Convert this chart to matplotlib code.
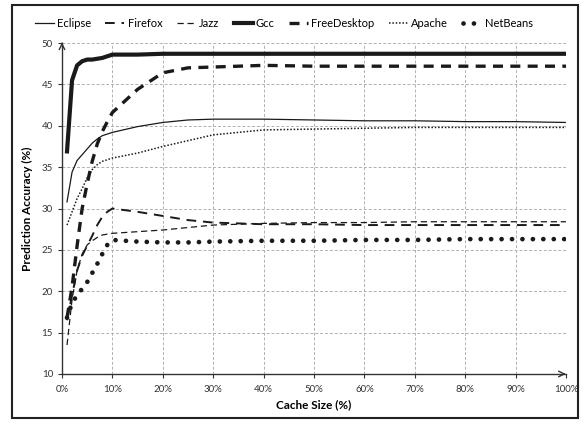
import matplotlib
matplotlib.use("Agg")
import matplotlib.pyplot as plt
from matplotlib.patches import Rectangle
from matplotlib.ticker import FuncFormatter

plt.rcParams['font.family'] = ['Lato', 'DejaVu Sans']

# cache size (%)
cache = [1, 2, 3, 4, 5, 6, 7, 8, 9, 10, 15, 20, 25, 30, 40, 50, 60, 70, 80, 90, 100]

eclipse = [30.8, 34.4, 35.8, 36.5, 37.2, 37.9, 38.4, 38.8, 39.0, 39.2, 39.9, 40.4, 40.7,
           40.8, 40.8, 40.7, 40.6, 40.6, 40.5, 40.5, 40.4]
firefox = [16.5, 19.5, 22.5, 24.3, 25.5, 26.7, 28.0, 29.0, 29.6, 30.0, 29.6, 29.1, 28.6,
           28.3, 28.1, 28.1, 28.0, 28.0, 28.0, 28.0, 28.0]
jazz = [13.5, 19.0, 22.5, 24.5, 25.6, 26.1, 26.5, 26.8, 26.9, 27.0, 27.2, 27.4, 27.7,
        28.0, 28.2, 28.3, 28.3, 28.4, 28.4, 28.4, 28.4]
gcc = [36.9, 45.5, 47.3, 47.8, 48.0, 48.0, 48.1, 48.2, 48.4, 48.6, 48.6, 48.7, 48.7,
       48.7, 48.7, 48.7, 48.7, 48.7, 48.7, 48.7, 48.7]
freedesktop = [16.8, 20.5, 25.5, 30.0, 33.0, 35.7, 37.8, 39.3, 40.5, 41.6, 44.4, 46.4, 47.0,
               47.1, 47.3, 47.2, 47.2, 47.2, 47.2, 47.2, 47.2]
apache = [28.0, 29.6, 31.2, 32.4, 33.7, 34.7, 35.3, 35.7, 35.9, 36.1, 36.7, 37.5, 38.2,
          38.9, 39.5, 39.6, 39.7, 39.8, 39.8, 39.8, 39.8]
netbeans = [16.8, 18.6, 19.5, 20.3, 21.1, 22.2, 23.3, 24.5, 25.6, 26.2, 26.0, 25.9, 25.9,
            26.0, 26.1, 26.1, 26.2, 26.2, 26.3, 26.3, 26.3]

col = '#1a1a1a'

fig = plt.figure(figsize=(5.88, 4.26), dpi=100)
ax = fig.add_axes([0.1054, 0.1221, 0.8572, 0.7769])

ax.plot(cache, eclipse, color=col, lw=0.9, label='Eclipse')
ax.plot(cache, firefox, color=col, lw=1.4, dashes=(5, 3.5), label='Firefox')
ax.plot(cache, jazz, color=col, lw=0.9, dashes=(5, 3), label='Jazz')
ax.plot(cache, gcc, color=col, lw=3.0, label='Gcc')
ax.plot(cache, freedesktop, color=col, lw=2.4, dashes=(3, 2.2), label='FreeDesktop')
ax.plot(cache, apache, color=col, lw=1.1, dashes=(1, 1.2), label='Apache')
ax.plot(cache, netbeans, color=col, lw=3.4, dashes=(0.01, 2.2),
        dash_capstyle='round', label='NetBeans')

ax.set_xlim(0, 100)
ax.set_ylim(10, 50)
ax.set_xticks(range(0, 101, 10))
ax.set_yticks(range(10, 51, 5))
ax.xaxis.set_major_formatter(FuncFormatter(lambda v, p: '%d%%' % v))
ax.tick_params(labelsize=7, colors='#333333', length=3, width=0.8)
ax.tick_params(axis='x', pad=5)
ax.grid(True, color='#b0b0b0', linestyle=(0, (3, 2)), linewidth=0.7)
ax.set_axisbelow(True)

for s in ['top', 'right']:
    ax.spines[s].set_visible(False)
for s in ['left', 'bottom']:
    ax.spines[s].set_color('#333333')
    ax.spines[s].set_linewidth(1.0)

# arrow heads on the axes
ax.annotate('', xy=(1.005, 0), xytext=(0.99, 0), xycoords='axes fraction',
            arrowprops=dict(arrowstyle='->', color='#333333', lw=1.0))
ax.annotate('', xy=(0, 1.01), xytext=(0, 0.99), xycoords='axes fraction',
            arrowprops=dict(arrowstyle='->', color='#333333', lw=1.0))

ax.set_xlabel('Cache Size (%)', fontsize=8.5, fontweight='bold', labelpad=4)
ax.set_ylabel('Prediction Accuracy (%)', fontsize=8.5, fontweight='bold', labelpad=6)

ax.legend(loc='lower center', bbox_to_anchor=(0.44, 1.03), ncol=7, frameon=False,
          fontsize=8, handlelength=1.7, handletextpad=0.3, columnspacing=1.3,
          borderaxespad=0)

fig.patches.append(Rectangle((12 / 588, 1 - 418 / 426), 566 / 588, 413 / 426,
                             transform=fig.transFigure, fill=False,
                             edgecolor='#222222', lw=1.5))

fig.savefig('out.png', dpi=100)
